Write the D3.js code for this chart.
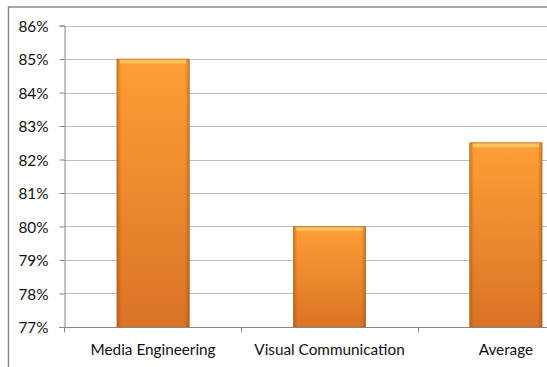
<!DOCTYPE html>
<html><head><meta charset="utf-8">
<script src="https://cdn.jsdelivr.net/npm/d3@7"></script>
<style>body{margin:0;background:#fff;overflow:hidden}svg{display:block}</style>
</head><body>
<script>
const categories = ["Media Engineering", "Visual Communication", "Average"];
const values = [0.85, 0.80, 0.825];
const yTicks = [0.77, 0.78, 0.79, 0.80, 0.81, 0.82, 0.83, 0.84, 0.85, 0.86];

(function(){
const W = 547, H = 367;
const FONT = "Lato, 'Open Sans', sans-serif";
const svg = d3.select("body").append("svg").attr("width", W).attr("height", H);
const defs = svg.append("defs");
const gv = defs.append("linearGradient").attr("id","gv").attr("x1",0).attr("y1",0).attr("x2",0).attr("y2",1);
gv.append("stop").attr("offset","0%").attr("stop-color","#FF9F36");
gv.append("stop").attr("offset","100%").attr("stop-color","#DA7326");
const gh = defs.append("linearGradient").attr("id","gh").attr("x1",0).attr("y1",0).attr("x2",1).attr("y2",0);
gh.append("stop").attr("offset","0%").attr("stop-color","#7a3a00").attr("stop-opacity",0.35);
gh.append("stop").attr("offset","6%").attr("stop-color","#7a3a00").attr("stop-opacity",0);
gh.append("stop").attr("offset","94%").attr("stop-color","#7a3a00").attr("stop-opacity",0);
gh.append("stop").attr("offset","100%").attr("stop-color","#7a3a00").attr("stop-opacity",0.35);

// outer chart border
svg.append("rect").attr("x",8.5).attr("y",7).attr("width",W+20).attr("height",H+20)
  .attr("fill","none").attr("stroke","#8a8a8a").attr("stroke-width",1.5);

const pLeft = 64, pTop = 25.5, pBottom = 327, band = 177;
const x = d3.scaleBand().domain(categories).range([pLeft, pLeft + band*categories.length]).paddingInner(0.59).paddingOuter(0.3);
const y = d3.scaleLinear().domain([0.77, 0.86]).range([pBottom, pTop]);

// gridlines
svg.append("g").selectAll("line").data(yTicks.slice(1)).join("line")
  .attr("x1", pLeft).attr("x2", W).attr("y1", d => Math.round(y(d))+0.5).attr("y2", d => Math.round(y(d))+0.5)
  .attr("stroke","#BEBEBE").attr("stroke-width",1);

// y axis
const yAxis = d3.axisLeft(y).tickValues(yTicks).tickFormat(d3.format(".0%")).tickSize(5).tickPadding(11);
const ya = svg.append("g").attr("transform",`translate(${pLeft+0.5},0)`).call(yAxis);
ya.select(".domain").attr("stroke","#868686");
ya.selectAll(".tick line").attr("stroke","#868686");
ya.selectAll("text").attr("font-family",FONT).attr("font-size",15.3).attr("fill","#111").attr("dy","0.36em");

// bars
const bars = svg.append("g").selectAll("g").data(categories).join("g");
bars.append("rect").attr("x", d => x(d)).attr("width", x.bandwidth())
  .attr("y", (d,i) => y(values[i])).attr("height", (d,i) => y(0.77) - y(values[i]))
  .attr("fill","url(#gv)").attr("stroke","#B8661E").attr("stroke-width",0.6);
bars.append("rect").attr("x", d => x(d)).attr("width", x.bandwidth())
  .attr("y", (d,i) => y(values[i])).attr("height", (d,i) => y(0.77) - y(values[i]))
  .attr("fill","url(#gh)");
bars.append("rect").attr("x", d => x(d)+3).attr("width", x.bandwidth()-6)
  .attr("y", (d,i) => y(values[i])+1).attr("height", 3.5)
  .attr("fill","#FFC865").attr("opacity",0.9);

// x axis
const xa = svg.append("g").attr("transform",`translate(0,${pBottom+0.5})`);
xa.append("line").attr("x1",pLeft-5).attr("x2",W).attr("stroke","#868686");
const bounds = d3.range(categories.length+1).map(i => pLeft + i*band);
xa.selectAll("line.t").data(bounds).join("line").attr("class","t")
  .attr("x1", d=>d+0.5).attr("x2", d=>d+0.5).attr("y1",0).attr("y2",5).attr("stroke","#868686");
xa.selectAll("text").data(categories).join("text")
  .attr("x", d => x(d) + x.bandwidth()/2).attr("y", 27.5)
  .attr("text-anchor","middle").attr("font-family",FONT).attr("font-size",15.3).attr("fill","#111")
  .text(d => d);
})();
</script>
</body></html>
